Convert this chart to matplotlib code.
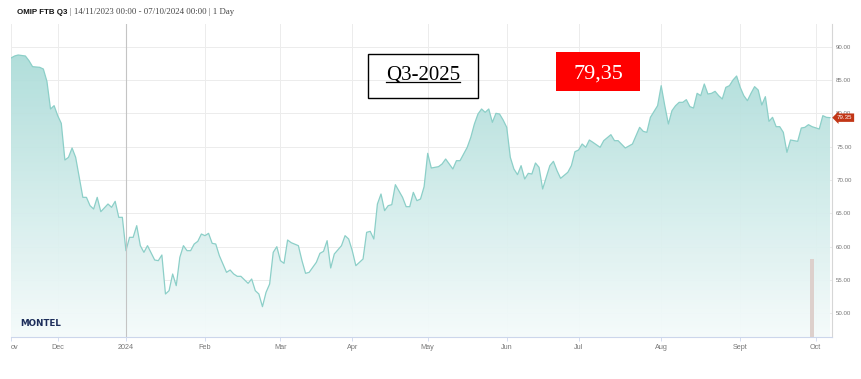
import matplotlib
matplotlib.use("Agg")
import matplotlib.pyplot as plt
from matplotlib.colors import LinearSegmentedColormap
from matplotlib.lines import Line2D
from matplotlib.patches import Rectangle
from matplotlib.transforms import blended_transform_factory
import numpy as np

START = "2023-11-14"
HOLIDAYS = ["2023-12-25", "2023-12-26", "2024-01-01", "2024-03-29", "2024-04-01", "2024-05-01"]

dates = [
    "2023-11-14", "2023-11-15", "2023-11-16", "2023-11-20", "2023-11-21", "2023-11-22", "2023-11-24",
    "2023-11-27", "2023-11-28", "2023-11-29", "2023-11-30", "2023-12-01", "2023-12-04", "2023-12-05",
    "2023-12-06", "2023-12-07", "2023-12-08", "2023-12-11", "2023-12-12", "2023-12-13", "2023-12-14",
    "2023-12-15", "2023-12-18", "2023-12-19", "2023-12-21", "2023-12-22", "2023-12-27", "2023-12-28",
    "2023-12-29", "2024-01-02", "2024-01-03", "2024-01-04", "2024-01-05", "2024-01-08", "2024-01-09",
    "2024-01-10", "2024-01-12", "2024-01-15", "2024-01-16", "2024-01-17", "2024-01-18", "2024-01-19",
    "2024-01-22", "2024-01-23", "2024-01-24", "2024-01-25", "2024-01-26", "2024-01-29", "2024-01-30",
    "2024-01-31", "2024-02-01", "2024-02-02", "2024-02-05", "2024-02-06", "2024-02-07", "2024-02-09",
    "2024-02-12", "2024-02-13", "2024-02-14", "2024-02-15", "2024-02-19", "2024-02-20", "2024-02-21",
    "2024-02-22", "2024-02-23", "2024-02-26", "2024-02-27", "2024-02-28", "2024-02-29", "2024-03-01",
    "2024-03-04", "2024-03-05", "2024-03-06", "2024-03-08", "2024-03-11", "2024-03-12", "2024-03-13",
    "2024-03-15", "2024-03-18", "2024-03-19", "2024-03-20", "2024-03-21", "2024-03-22", "2024-03-26",
    "2024-03-27", "2024-03-28", "2024-04-02", "2024-04-03", "2024-04-05", "2024-04-08", "2024-04-09",
    "2024-04-10", "2024-04-11", "2024-04-12", "2024-04-15", "2024-04-16", "2024-04-17", "2024-04-18",
    "2024-04-22", "2024-04-23", "2024-04-24", "2024-04-25", "2024-04-26", "2024-04-29", "2024-04-30",
    "2024-05-02", "2024-05-03", "2024-05-07", "2024-05-08", "2024-05-09", "2024-05-10", "2024-05-13",
    "2024-05-14", "2024-05-15", "2024-05-16", "2024-05-17", "2024-05-20", "2024-05-21", "2024-05-22",
    "2024-05-23", "2024-05-24", "2024-05-27", "2024-05-28", "2024-05-29", "2024-05-30", "2024-05-31",
    "2024-06-03", "2024-06-04", "2024-06-05", "2024-06-06", "2024-06-07", "2024-06-10", "2024-06-11",
    "2024-06-12", "2024-06-13", "2024-06-14", "2024-06-17", "2024-06-18", "2024-06-19", "2024-06-20",
    "2024-06-21", "2024-06-24", "2024-06-26", "2024-06-27", "2024-06-28", "2024-07-01", "2024-07-02",
    "2024-07-03", "2024-07-04", "2024-07-05", "2024-07-09", "2024-07-10", "2024-07-12", "2024-07-15",
    "2024-07-16", "2024-07-18", "2024-07-22", "2024-07-24", "2024-07-25", "2024-07-26", "2024-07-29",
    "2024-07-31", "2024-08-01", "2024-08-02", "2024-08-05", "2024-08-06", "2024-08-07", "2024-08-08",
    "2024-08-09", "2024-08-12", "2024-08-13", "2024-08-14", "2024-08-15", "2024-08-16", "2024-08-19",
    "2024-08-20", "2024-08-21", "2024-08-22", "2024-08-23", "2024-08-26", "2024-08-27", "2024-08-28",
    "2024-08-29", "2024-08-30", "2024-09-02", "2024-09-03", "2024-09-04", "2024-09-05", "2024-09-06",
    "2024-09-09", "2024-09-10", "2024-09-11", "2024-09-12", "2024-09-13", "2024-09-16", "2024-09-17",
    "2024-09-18", "2024-09-19", "2024-09-20", "2024-09-24", "2024-09-25", "2024-09-26", "2024-09-27",
    "2024-09-30", "2024-10-02", "2024-10-03", "2024-10-04", "2024-10-07",
]
prices = [
    88.3, 88.6, 88.75, 88.6, 87.9, 87.0, 86.9,
    86.65, 84.8, 80.65, 81.15, 79.65, 78.5, 73.0,
    73.4, 74.8, 73.4, 70.4, 67.4, 67.4, 66.15,
    65.65, 67.4, 65.25, 66.4, 65.9, 66.8, 64.4,
    64.4, 59.4, 61.4, 61.4, 63.15, 60.15, 59.15,
    60.15, 58.0, 57.9, 58.75, 52.9, 53.4, 55.9,
    54.15, 58.4, 60.15, 59.4, 59.4, 60.4, 60.8,
    61.9, 61.65, 62.0, 60.5, 60.4, 58.65, 56.15,
    56.5, 55.9, 55.55, 55.55, 54.5, 55.15, 53.4,
    52.9, 51.0, 53.15, 54.4, 59.15, 60.0, 57.9,
    57.5, 61.0, 60.6, 60.15, 57.9, 56.0, 56.15,
    57.65, 59.0, 59.3, 60.9, 56.8, 58.9, 60.15,
    61.65, 61.15, 59.4, 57.15, 58.15, 62.15, 62.3,
    61.15, 66.4, 67.9, 65.4, 66.15, 66.3, 69.3,
    67.4, 66.0, 66.0, 68.15, 66.9, 67.15, 69.0,
    74.0, 71.8, 72.0, 72.4, 73.15, 72.4, 71.65,
    72.9, 72.9, 73.9, 74.9, 76.4, 78.4, 79.9,
    80.65, 80.15, 80.65, 78.65, 80.0, 79.9, 79.0,
    77.9, 73.4, 71.65, 70.8, 72.15, 70.15, 71.0,
    70.9, 72.55, 71.9, 68.65, 70.4, 72.15, 72.8,
    71.4, 70.25, 71.15, 72.15, 74.25, 74.5, 75.4,
    74.9, 76.0, 75.65, 74.9, 75.9, 76.8, 75.9,
    75.9, 74.8, 75.4, 77.9, 77.3, 77.15, 79.4,
    81.15, 84.15, 81.15, 78.4, 80.4, 81.15, 81.65,
    81.65, 82.05, 81.0, 80.8, 83.0, 82.65, 84.4,
    82.9, 83.0, 83.3, 82.65, 82.15, 83.9, 84.15,
    85.0, 85.6, 83.9, 82.65, 81.9, 83.0, 84.0,
    83.5, 81.25, 82.5, 78.8, 79.4, 78.0, 78.0,
    77.15, 74.15, 76.0, 75.8, 77.8, 77.9, 78.3,
    78.0, 77.65, 79.65, 79.4, 79.35,
]

volume_date = "2024-09-30"
volume_top = 58.2

month_starts = ["2023-12-01", "2024-01-01", "2024-02-01", "2024-03-01", "2024-04-01", "2024-05-01",
                "2024-06-01", "2024-07-01", "2024-08-01", "2024-09-01", "2024-10-01"]
month_labels = ["Dec", "2024", "Feb", "Mar", "Apr", "May", "Jun", "Jul", "Aug", "Sept", "Oct"]
y_ticks = [50, 55, 60, 65, 70, 75, 80, 85, 90]

last_price = 79.35
title_bold = "OMIP FTB Q3"
title_rest = "| 14/11/2023 00:00 - 07/10/2024 00:00 | 1 Day"
product_label = "Q3-2025"
price_label = "79,35"

W, H = 862, 379


def fx(px):
    return px / W


def fy(py):
    return 1 - py / H


def main() -> None:
    x = np.busday_count(START, dates, holidays=HOLIDAYS)
    ticks = np.busday_count(START, month_starts, holidays=HOLIDAYS)
    ymin, ymax = 46.45, 93.4
    xmax = x[-1] + 0.55

    fig = plt.figure(figsize=(W / 100, H / 100), dpi=100)
    ax = fig.add_axes([fx(11), fy(337), fx(832) - fx(11), fy(24) - fy(337)])
    ax.set_xlim(0, xmax)
    ax.set_ylim(ymin, ymax)
    ax.set_axisbelow(True)

    # gradient area under the line, clipped to the series polygon
    cmap = LinearSegmentedColormap.from_list("omip", ["#f5fbfb", "#a4d9d5"])
    grad = np.linspace(1, 0, 256).reshape(-1, 1)
    im = ax.imshow(grad, cmap=cmap, aspect="auto", extent=[0, xmax, ymin, ymax], origin="upper",
                   zorder=0.8, alpha=0.94)
    poly = ax.fill_between(x, prices, ymin, facecolor="none", edgecolor="none")
    im.set_clip_path(poly.get_paths()[0], transform=ax.transData)
    ax.plot(x, prices, color="#8ccfc8", lw=0.9, zorder=2)

    vx = np.busday_count(START, volume_date, holidays=HOLIDAYS)
    ax.bar([vx], [volume_top - ymin], bottom=ymin, width=1.3, color="#ddd0cc", zorder=2.5)

    ax.set_yticks(y_ticks)
    ax.set_yticklabels([f"{v:.2f}" for v in y_ticks])
    ax.yaxis.tick_right()
    ax.tick_params(axis="y", length=0, pad=3, labelsize=4.4, labelcolor="#777777")
    for lab in ax.get_yticklabels():
        lab.set_family("Liberation Sans")

    ax.set_xticks([0] + list(ticks))
    ax.set_xticklabels(["ov"] + month_labels)
    ax.tick_params(axis="x", length=3, width=0.6, color="#ccd6eb", pad=2, labelsize=5.2, labelcolor="#777777")
    for i, lab in enumerate(ax.get_xticklabels()):
        lab.set_family("Liberation Sans")
        if i == 0:
            lab.set_horizontalalignment("left")

    ax.grid(True, color="#ececec", lw=0.7)
    ax.axvline(ticks[1], color="#c4c4c4", lw=0.8, zorder=2.2)
    for side in ["top", "left"]:
        ax.spines[side].set_visible(False)
    ax.spines["bottom"].set_color("#ccd6eb")
    ax.spines["bottom"].set_linewidth(0.8)
    ax.spines["right"].set_color("#d6d6d6")
    ax.spines["right"].set_linewidth(0.8)

    # last price tag on the right axis
    tr = blended_transform_factory(ax.transAxes, ax.transData)
    ax.text(1.006, last_price, f"{last_price:.2f}", transform=tr, ha="left", va="center", fontsize=4.4,
            color="white", family="Liberation Sans", zorder=5, clip_on=False,
            bbox=dict(boxstyle="larrow,pad=0.28", fc="#c23616", ec="none"))

    ax.text(0.011, 0.03, "MONTEL", transform=ax.transAxes, fontsize=6.3, fontweight="bold",
            color="#1c2d5a", family="DejaVu Sans", va="bottom", ha="left")

    fig.text(fx(17), fy(12), title_bold, fontsize=5.7, fontweight="bold", family="Liberation Sans",
             va="center", ha="left", color="#111111")
    fig.text(fx(70), fy(12), title_rest, fontsize=6.3, family="Liberation Serif",
             va="center", ha="left", color="#444444")

    # product box
    fig.add_artist(Rectangle((fx(368), fy(98)), fx(478) - fx(368), fy(54) - fy(98), transform=fig.transFigure,
                             fill=False, ec="black", lw=1.0))
    t = fig.text(fx(423), fy(80), product_label, fontsize=15, family="Liberation Serif", ha="center",
                 va="baseline", color="black")
    fig.add_artist(Rectangle((fx(556), fy(91)), fx(640) - fx(556), fy(52) - fy(91), transform=fig.transFigure,
                             fc="#ff0000", ec="none"))
    fig.text(fx(598), fy(79), price_label, fontsize=16, family="Liberation Serif", ha="center",
             va="baseline", color="white")

    fig.canvas.draw()
    bb = t.get_window_extent()
    fig.add_artist(Line2D([fx(bb.x0), fx(bb.x1)], [fy(81.7), fy(81.7)], transform=fig.transFigure,
                          color="black", lw=0.9))

    fig.savefig("out.png", dpi=100)
    plt.close(fig)


if __name__ == "__main__":
    main()
